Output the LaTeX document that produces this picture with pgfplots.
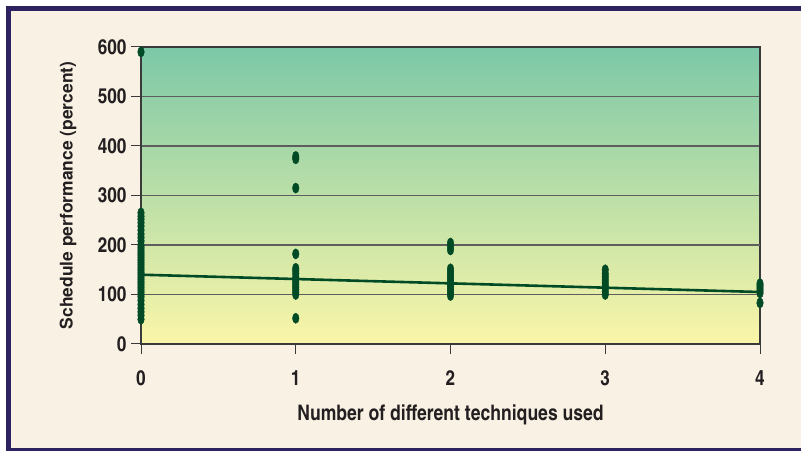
\documentclass[border=0pt]{standalone}
\usepackage{pgfplots}
\pgfplotsset{compat=1.18}
\usepackage{fontspec}
\newfontfamily\cnfont{TeX Gyre Heros Cn}
\newfontfamily\hvfont{TeX Gyre Heros}
\definecolor{frame}{HTML}{2E2360}
\definecolor{cream}{HTML}{F8F1E4}
\definecolor{topg}{HTML}{7CC8A8}
\definecolor{midg}{HTML}{C6E1B0}
\definecolor{boty}{HTML}{FBF6A8}
\definecolor{dkg}{HTML}{004B25}
\definecolor{txt}{HTML}{231F20}
\definecolor{gridc}{HTML}{5E5E5E}
\definecolor{axc}{HTML}{3A3A3A}

\pgfplotstableread{
x y
0 50
0 58
0 65
0 72
0 80
0 88
0 95
0 100
0 105
0 110
0 115
0 120
0 125
0 130
0 135
0 140
0 145
0 150
0 155
0 160
0 165
0 170
0 175
0 180
0 185
0 190
0 195
0 200
0 208
0 215
0 222
0 230
0 238
0 245
0 252
0 258
0 265
0 590
1 52
1 100
1 105
1 110
1 115
1 120
1 125
1 130
1 135
1 142
1 148
1 153
1 182
1 315
1 374
1 379
2 98
2 104
2 110
2 116
2 122
2 128
2 134
2 140
2 146
2 152
2 190
2 197
2 204
3 100
3 106
3 112
3 118
3 124
3 130
3 136
3 142
3 150
4 83
4 103
4 108
4 113
4 118
4 122
}\pts

\begin{document}
\begin{tikzpicture}[x=1bp,y=1bp]
\path[use as bounding box] (0,0) rectangle (801,451);
\fill[white] (0,0) rectangle (801,451);
\fill[frame] (6,0) rectangle (801,445);
\fill[cream] (11,3) rectangle (801,440);
\begin{axis}[
  at={(141bp,107bp)}, anchor=origin,
  scale only axis, width=619bp, height=297bp,
  xmin=0, xmax=4, ymin=0, ymax=600,
  xtick={0,1,2,3,4}, ytick={0,100,...,600},
  clip=false,
  axis background/.style={top color=topg, middle color=midg, bottom color=boty},
  ymajorgrids,
  major grid style={color=gridc, line width=1.3bp},
  axis line style={color=axc, line width=1.2bp},
  tick align=outside, major tick length=10bp,
  tick style={color=axc, line width=1bp},
  xtick pos=bottom, ytick pos=left,
  /pgf/number format/assume math mode=true,
  ticklabel style={font=\cnfont\bfseries\fontsize{21}{21}\selectfont, text=txt},
  yticklabel style={xshift=-1bp},
  xticklabel style={yshift=-13bp},
  extra y ticks={200}, extra y tick labels={},
  extra y tick style={grid style={color=black, line width=1bp}, major tick length=0pt},
  xlabel={Number of different techniques used},
  xlabel style={font=\cnfont\bfseries\fontsize{21.5}{21.5}\selectfont, text=txt,
    at={(axis description cs:0.5,-0.2323)}, anchor=center, yshift=-2bp},
  ylabel={Schedule performance (percent)},
  ylabel style={font=\hvfont\bfseries\fontsize{17.5}{17.5}\selectfont, text=txt,
    at={(axis description cs:-0.118,0.5)}, anchor=center},
]
\addplot[no marks, dkg, line width=2.6bp] coordinates {(0,140) (4,105)};
\addplot[only marks, mark=*, mark size=3.3bp,
  mark options={draw=dkg, fill=dkg, yscale=1.55}] table[x=x,y=y] {\pts};
\end{axis}
\end{tikzpicture}
\end{document}
